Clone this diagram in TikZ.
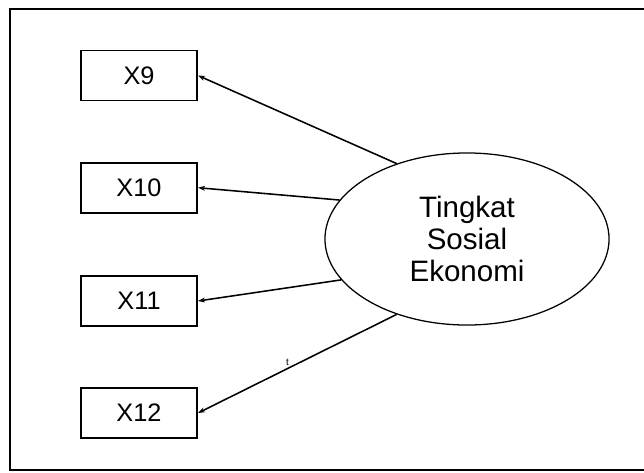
\documentclass[tikz,border=0pt]{standalone}
\usepackage{fontspec}
\setmainfont{Liberation Sans}
\usetikzlibrary{arrows.meta,shapes.geometric}
\tikzset{
  box/.style={draw,line width=1.4pt,minimum width=2.9cm,minimum height=1.25cm,inner sep=0pt,font=\fontsize{18}{20}\selectfont},
  lat/.style={draw,ellipse,line width=0.9pt,minimum width=7.1cm,minimum height=4.3cm,inner sep=0pt,align=center,font=\fontsize{21}{22.7}\selectfont},
  ar/.style={-{Stealth[length=5pt,width=3.5pt]},line width=1.1pt},
}
\begin{document}
\begin{tikzpicture}[x=0.025cm,y=-0.025cm]
\useasboundingbox (0,0) rectangle (644,473);
% frame
\draw[line width=1.8pt] (644,9) -- (10,9) -- (10,470) -- (644,470);
% indicators
\node[box] (x9) at (139,75.5) {X9};
\node[box] (x10) at (139,187.7) {X10};
\node[box] (x11) at (139,301) {X11};
\node[box] (x12) at (139,413) {X12};
% latent variable
\node[lat] (tse) at (467,239) {Tingkat\\Sosial\\Ekonomi};
% loadings
\draw[ar] (tse.133) -- (x9.east);
\draw[ar] (tse.163) -- (x10.east);
\draw[ar] (tse.198) -- (x11.east);
\draw[ar] (tse.227) -- node[pos=0.55,above,font=\fontsize{7}{8}\selectfont,inner sep=1.5pt] (tl) {t} (x12.east);
\end{tikzpicture}
\end{document}
